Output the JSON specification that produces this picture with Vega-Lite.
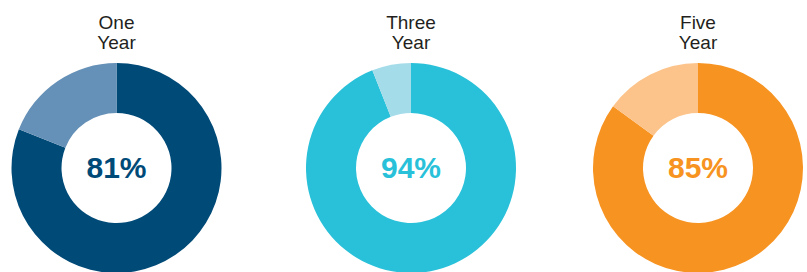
{
  "$schema": "https://vega.github.io/schema/vega-lite/v6.json",
  "background": "white",
  "padding": {"top": 14, "left": 0, "right": 0, "bottom": 0},
  "spacing": 0,
  "config": {
    "view": {"stroke": null},
    "concat": {"spacing": 0},
    "title": {"font": "Liberation Sans", "fontSize": 19, "fontWeight": "normal", "color": "#231f20", "lineHeight": 20, "offset": 10, "anchor": "middle"},
    "text": {"font": "Liberation Sans"}
  },
  "data": {
    "values": [
      {"period": "One Year", "segment": "One Year achieved", "ord": 1, "value": 81, "label": "81%"},
      {"period": "One Year", "segment": "One Year remaining", "ord": 2, "value": 19, "label": "19%"},
      {"period": "Three Year", "segment": "Three Year achieved", "ord": 1, "value": 94, "label": "94%"},
      {"period": "Three Year", "segment": "Three Year remaining", "ord": 2, "value": 6, "label": "6%"},
      {"period": "Five Year", "segment": "Five Year achieved", "ord": 1, "value": 85, "label": "85%"},
      {"period": "Five Year", "segment": "Five Year remaining", "ord": 2, "value": 15, "label": "15%"}
    ]
  },
  "hconcat": [
    {
      "width": 233, "height": 208,
      "title": {"text": ["One", "Year"]},
      "transform": [{"filter": "datum.period == 'One Year'"}],
      "layer": [
        {
          "mark": {"type": "arc", "innerRadius": 55, "outerRadius": 105},
          "encoding": {
            "theta": {"field": "value", "type": "quantitative", "stack": true},
            "order": {"field": "ord", "type": "quantitative"},
            "color": {"field": "segment", "type": "nominal", "legend": null,
              "scale": {"domain": ["One Year achieved", "One Year remaining", "Three Year achieved", "Three Year remaining", "Five Year achieved", "Five Year remaining"],
                        "range": ["#004a78", "#6590b7", "#29c1d9", "#a5dcea", "#f79321", "#fcc48a"]}}
          }
        },
        {
          "transform": [{"filter": "datum.ord == 1"}],
          "mark": {"type": "text", "fontSize": 30, "fontWeight": "bold", "baseline": "middle", "align": "center", "dy": 1},
          "encoding": {
            "text": {"field": "label", "type": "nominal"},
            "color": {"field": "segment", "type": "nominal", "legend": null}
          }
        }
      ]
    },
    {
      "width": 356, "height": 208,
      "title": {"text": ["Three", "Year"]},
      "transform": [{"filter": "datum.period == 'Three Year'"}],
      "layer": [
        {
          "mark": {"type": "arc", "innerRadius": 55, "outerRadius": 105},
          "encoding": {
            "theta": {"field": "value", "type": "quantitative", "stack": true},
            "order": {"field": "ord", "type": "quantitative"},
            "color": {"field": "segment", "type": "nominal", "legend": null}
          }
        },
        {
          "transform": [{"filter": "datum.ord == 1"}],
          "mark": {"type": "text", "fontSize": 30, "fontWeight": "bold", "baseline": "middle", "align": "center", "dy": 1},
          "encoding": {
            "text": {"field": "label", "type": "nominal"},
            "color": {"field": "segment", "type": "nominal", "legend": null}
          }
        }
      ]
    },
    {
      "width": 218, "height": 208,
      "title": {"text": ["Five", "Year"]},
      "transform": [{"filter": "datum.period == 'Five Year'"}],
      "layer": [
        {
          "mark": {"type": "arc", "innerRadius": 55, "outerRadius": 105},
          "encoding": {
            "theta": {"field": "value", "type": "quantitative", "stack": true},
            "order": {"field": "ord", "type": "quantitative"},
            "color": {"field": "segment", "type": "nominal", "legend": null}
          }
        },
        {
          "transform": [{"filter": "datum.ord == 1"}],
          "mark": {"type": "text", "fontSize": 30, "fontWeight": "bold", "baseline": "middle", "align": "center", "dy": 1},
          "encoding": {
            "text": {"field": "label", "type": "nominal"},
            "color": {"field": "segment", "type": "nominal", "legend": null}
          }
        }
      ]
    }
  ]
}
